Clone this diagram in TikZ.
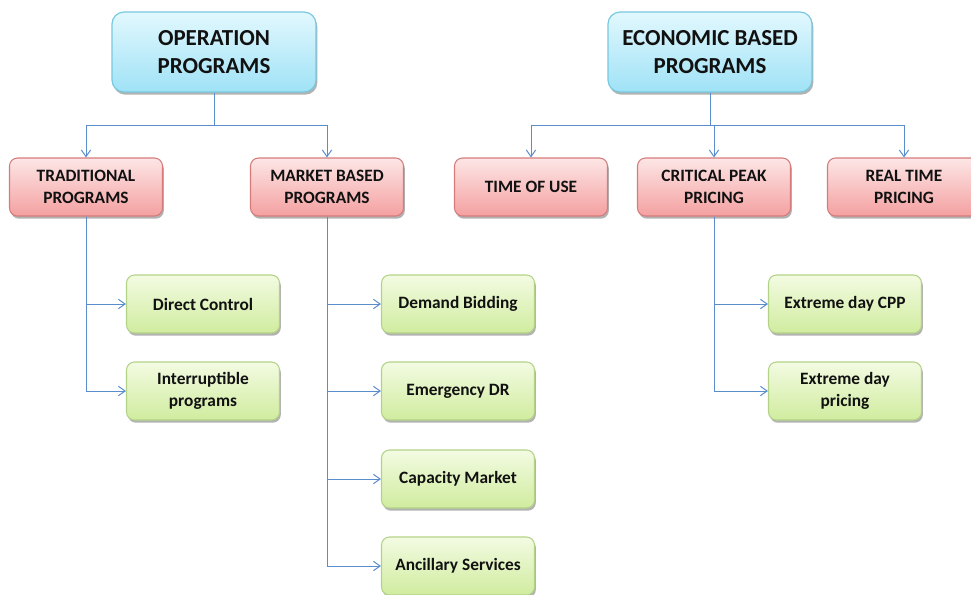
\documentclass[tikz,border=0pt]{standalone}
\usepackage{fontspec}
\setmainfont{Carlito}
\usetikzlibrary{arrows.meta, shadows}
\definecolor{skyTop}{HTML}{E2F8FE}
\definecolor{skyBot}{HTML}{9FE2F6}
\definecolor{skyLine}{HTML}{78C8E0}
\definecolor{roseTop}{HTML}{FDE6E6}
\definecolor{roseBot}{HTML}{F4A0A0}
\definecolor{roseLine}{HTML}{D57B7B}
\definecolor{limeTop}{HTML}{F3FBE2}
\definecolor{limeBot}{HTML}{D0EC9F}
\definecolor{limeLine}{HTML}{B3D287}
\definecolor{wire}{HTML}{5A8DCB}
\definecolor{ink}{HTML}{111111}

\begin{document}
\begin{tikzpicture}[
  x=0.75pt, y=-0.75pt,
  every node/.style={font=\bfseries, text=ink, align=center},
  topbox/.style={
    rounded corners=9pt, draw=skyLine, line width=0.9pt,
    top color=skyTop, bottom color=skyBot,
    minimum width=153pt, minimum height=60pt,
    font=\bfseries\fontsize{17.2}{21}\selectfont,
    drop shadow={shadow xshift=1pt, shadow yshift=-2pt, opacity=0.3, fill=black}
  },
  catbox/.style={
    rounded corners=6pt, draw=roseLine, line width=0.8pt,
    top color=roseTop, bottom color=roseBot,
    minimum width=114.75pt, minimum height=43.5pt,
    font=\bfseries\fontsize{13}{17}\selectfont,
    drop shadow={shadow xshift=1pt, shadow yshift=-2pt, opacity=0.3, fill=black}
  },
  leafbox/.style={
    rounded corners=6pt, draw=limeLine, line width=0.8pt,
    top color=limeTop, bottom color=limeBot,
    minimum width=114.75pt, minimum height=43.5pt,
    font=\bfseries\fontsize{13}{17}\selectfont,
    drop shadow={shadow xshift=1pt, shadow yshift=-2pt, opacity=0.3, fill=black}
  },
  link/.style={draw=wire, line width=0.75pt,
    -{Straight Barb[length=5pt, width=7pt]}}
]
\useasboundingbox (0,0) rectangle (971,594);

% program families
\node[topbox] (oper) at (214,52) {OPERATION\\PROGRAMS};
\node[topbox] (econ) at (710,52) {ECONOMIC BASED\\PROGRAMS};

% categories
\node[catbox] (trad) at (86,187)  {TRADITIONAL\\PROGRAMS};
\node[catbox] (mkt)  at (327,187) {MARKET BASED\\PROGRAMS};
\node[catbox] (tou)  at (531,187) {TIME OF USE};
\node[catbox] (cpp)  at (714,187) {CRITICAL PEAK\\PRICING};
\node[catbox] (rtp)  at (904,187) {REAL TIME\\PRICING};

% programs
\node[leafbox] (direct) at (203,304) {Direct Control};
\node[leafbox] (intr)   at (203,391) {Interruptible\\programs};
\node[leafbox] (bid)    at (458,304) {Demand Bidding};
\node[leafbox] (edr)    at (458,391) {Emergency DR};
\node[leafbox] (cap)    at (458,479) {Capacity Market};
\node[leafbox] (anc)    at (458,566) {Ancillary Services};
\node[leafbox] (xcpp)   at (845,304) {Extreme day CPP};
\node[leafbox] (xday)   at (845,391) {Extreme day\\pricing};

% tree links
\draw[link] (oper.south) -- ++(0,33) -| (trad.north);
\draw[link] (oper.south) -- ++(0,33) -| (mkt.north);
\draw[link] (econ.south) -- ++(0,33) -| (tou.north);
\draw[link] (econ.south) -- ++(0,33) -| (cpp.north);
\draw[link] (econ.south) -- ++(0,33) -| (rtp.north);

\foreach \leaf in {direct, intr}
  \draw[link] (trad.south) |- (\leaf.west);
\foreach \leaf in {bid, edr, cap, anc}
  \draw[link] (mkt.south) |- (\leaf.west);
\foreach \leaf in {xcpp, xday}
  \draw[link] (cpp.south) |- (\leaf.west);
\end{tikzpicture}
\end{document}
